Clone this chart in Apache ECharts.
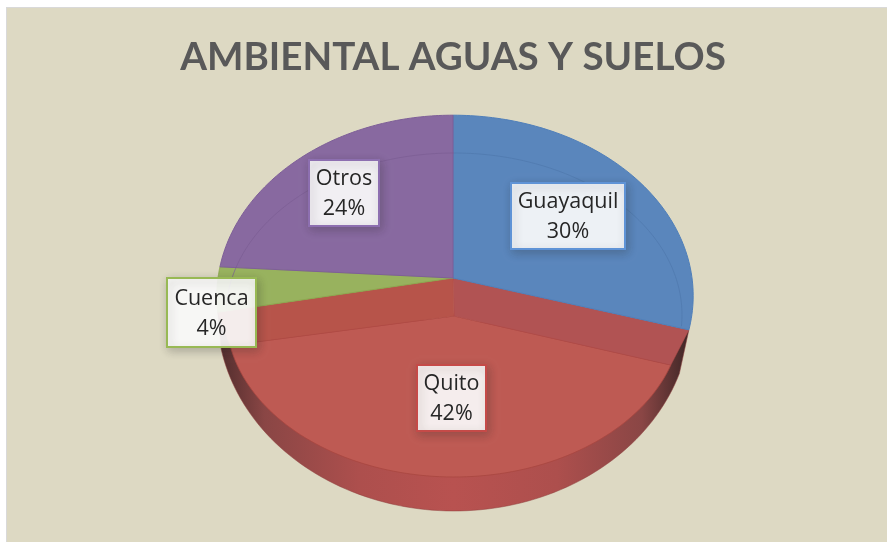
<!DOCTYPE html>
<html>
<head>
<meta charset="utf-8">
<style>html,body{margin:0;padding:0;background:#fff}#c{width:887px;height:542px}</style>
<script src="https://cdn.jsdelivr.net/npm/echarts@6/dist/echarts.min.js"></script>
</head>
<body>
<div id="c"></div>
<script>
var titleText = 'AMBIENTAL AGUAS Y SUELOS';
var categories = ['Guayaquil', 'Quito', 'Cuenca', 'Otros'];
var values = [30, 42, 4, 24];

var sliceColors = ['#5A86BC', '#BE5A53', '#98B25E', '#8869A0'];
var sliceEdges = ['#4F7FBA', '#A84640', '#8CA84F', '#7E5F98'];
var bevelColors = ['#4F78AD', '', '', '#7B5D93'];
var labelBorders = ['#5F93D6', '#C54A48', '#98B954', '#8D6FB0'];
var labelBoxes = [[511, 183, 114, 66], [417, 365, 69, 66], [167, 278, 89, 69], [309, 160, 70, 66]];
var labelWidths = [2, 2, 2, 2];

var total = values.reduce(function (a, b) { return a + b; }, 0);
var RAD = Math.PI / 180;
var hubX = 453, hubY = 278;

function rim(t0) {
  var t = t0 - 0.03 * Math.max(0, Math.sin(t0));
  var d = 1 + 0.0995 * Math.cos(t);
  return [hubX + 237 * Math.sin(t) / d + 2 * Math.abs(Math.sin(t)), hubY - 179 * Math.cos(t) / d];
}
function inner(t) { return [454 + 228 * Math.sin(t), 315 - 162 * Math.cos(t)]; }
function lower(t) { return [454 + 237 * Math.sin(t), 312 - 199 * Math.cos(t)]; }
function arc(fn, a, b) {
  var out = [], n = 90;
  for (var i = 0; i <= n; i++) out.push(fn(a + (b - a) * i / n));
  return out;
}

function renderItem(params, api) {
  var i = params.dataIndex;
  var before = 0;
  for (var k = 0; k < i; k++) before += values[k];
  var a = before / total * 360 * RAD;
  var b = (before + api.value(0)) / total * 360 * RAD;
  var children = [];
  var hub = [hubX, hubY];
  var face = [hub].concat(arc(rim, a, b));

  if (categories[i] === 'Quito') {
    children.push({
      type: 'polygon', z2: 1,
      shape: { points: [rim(a)].concat(arc(lower, a, b), [rim(b)]) },
      style: {
        stroke: '#8E3F3C', lineWidth: 0.5,
        fill: {
          type: 'linear', x: 0, y: 0, x2: 1, y2: 0,
          colorStops: [
            { offset: 0, color: '#4F2C2C' }, { offset: 0.1, color: '#8A4645' },
            { offset: 0.3, color: '#AD4F4D' }, { offset: 0.5, color: '#B85250' },
            { offset: 0.72, color: '#AD4F4D' }, { offset: 0.9, color: '#8A4645' },
            { offset: 1, color: '#3E2626' }
          ]
        }
      }
    });
    var centre = [454, 316];
    children.push({
      type: 'polygon', z2: 2,
      shape: { points: [centre].concat(arc(inner, a, b)) },
      style: { fill: sliceColors[i], stroke: sliceEdges[i], lineWidth: 0.8 }
    });
    children.push({
      type: 'polygon', z2: 3,
      shape: { points: [hub, rim(a), inner(a), centre] },
      style: { fill: '#B15353', stroke: '#B04A48', lineWidth: 0.5 }
    });
    children.push({
      type: 'polygon', z2: 3,
      shape: { points: [hub, centre, inner(b), rim(b)] },
      style: { fill: '#B7544A', stroke: '#B04A44', lineWidth: 0.5 }
    });
  } else {
    children.push({
      type: 'polygon', z2: 4,
      shape: { points: face },
      style: { fill: sliceColors[i], stroke: sliceEdges[i], lineWidth: 1 }
    });
    if (bevelColors[i]) {
      children.push({
        type: 'polyline', z2: 5, silent: true,
        shape: { points: arc(inner, i === 0 ? 0 : 272 * RAD, i === 0 ? 94 * RAD : 360 * RAD) },
        style: { fill: null, stroke: bevelColors[i], lineWidth: 1, opacity: 0.7 }
      });
    }
  }

  var box = labelBoxes[i];
  children.push({
    type: 'rect', z2: 10,
    shape: { x: box[0], y: box[1], width: box[2], height: box[3] },
    style: {
      fill: 'rgba(255,255,255,0.9)', stroke: labelBorders[i], lineWidth: labelWidths[i],
      shadowBlur: 9, shadowOffsetX: 2, shadowOffsetY: 3, shadowColor: 'rgba(40,40,40,0.28)'
    }
  });
  children.push({
    type: 'text', z2: 11,
    x: box[0] + box[2] / 2, y: box[1] + box[3] / 2 + 1,
    style: {
      text: categories[i] + '\n' + Math.round(api.value(0) / total * 100) + '%',
      align: 'center', verticalAlign: 'middle',
      fontFamily: '"Open Sans"', fontSize: 21.5, lineHeight: 30, fill: '#262626'
    }
  });
  return { type: 'group', children: children };
}

var chart = echarts.init(document.getElementById('c'), null, { renderer: 'canvas' });
chart.setOption({
  animation: false,
  backgroundColor: '#FFFFFF',
  title: {
    text: titleText, left: 448, top: 33, textAlign: 'center',
    textStyle: { fontFamily: 'Lato', fontWeight: 'bold', fontSize: 38.6, color: '#595959' }
  },
  graphic: [
    { type: 'rect', z: -2, shape: { x: 6, y: 7, width: 881, height: 535 }, style: { fill: '#D9D9D9' } },
    { type: 'rect', z: -1, shape: { x: 7, y: 8, width: 880, height: 534 }, style: { fill: '#DDD9C3' } }
  ],
  series: [{
    type: 'custom',
    coordinateSystem: 'none',
    renderItem: renderItem,
    data: values.map(function (v, i) { return { name: categories[i], value: [v] }; }),
    silent: true
  }]
});
</script>
</body>
</html>
